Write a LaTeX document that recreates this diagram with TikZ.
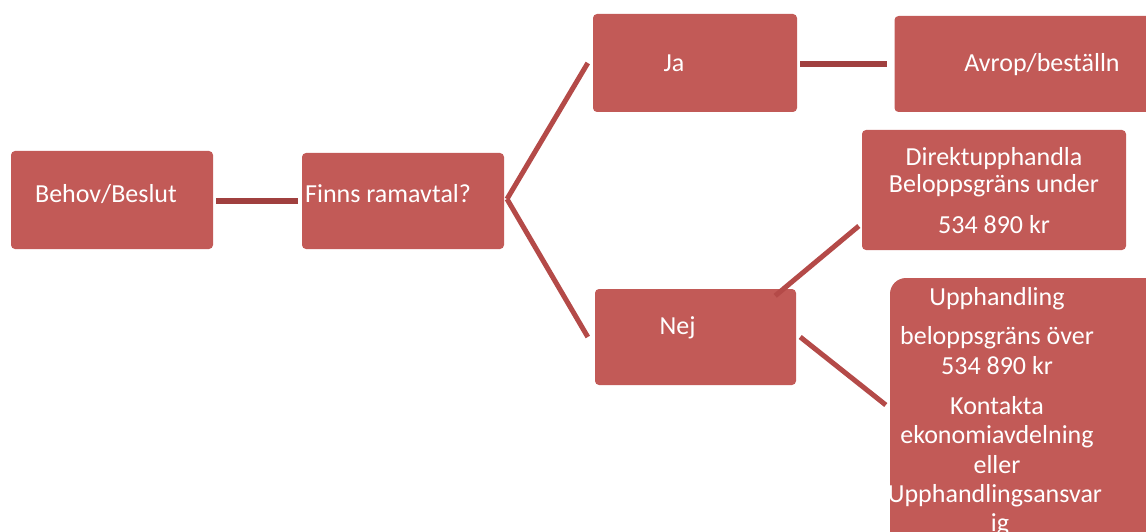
\documentclass[tikz,border=0pt]{standalone}
\usepackage{fontspec}
\setmainfont{Carlito}
\definecolor{boxred}{HTML}{C25A57}
\definecolor{hlinecol}{HTML}{A0403F}
\definecolor{dlinecol}{HTML}{B44A48}
\begin{document}
\begin{tikzpicture}[x=1pt,y=-1pt,
  box/.style={fill=boxred,draw=none,inner sep=0pt,rounded corners=4pt},
  txt/.style={text=white,inner sep=0pt,anchor=base,font=\fontsize{26}{31}\selectfont},
  hconn/.style={draw=hlinecol,line width=6pt},
  dconn/.style={draw=dlinecol,line width=5pt}]
\useasboundingbox (0,0) rectangle (1146,532);
\clip (0,0) rectangle (1146,532);
% boxes
\node[box,minimum width=202pt,minimum height=98pt] (behov) at (112,200) {};
\node[box,minimum width=202pt,minimum height=96pt] (finns) at (403,201) {};
\node[box,minimum width=204pt,minimum height=98pt] (ja) at (695,63) {};
\node[box,minimum width=265pt,minimum height=96pt] (avrop) at (1027,64) {};
\node[box,minimum width=264pt,minimum height=120pt] (direkt) at (994,190) {};
\node[box,minimum width=201pt,minimum height=96pt] (nej) at (695.5,337) {};
\node[box,rounded corners=16pt,minimum width=270pt,minimum height=282pt] (upph) at (1025,419) {};
% connectors
\coordinate (fork) at (507,199);
\draw[hconn] ([xshift=3pt]behov.east |- 0,201) -- ([xshift=-4pt]finns.west |- 0,201);
\draw[dconn] (fork) -- ([xshift=-5pt]ja.west);
\draw[dconn] (fork) -- ([xshift=-7pt]nej.west);
\draw[hconn] ([xshift=3pt]ja.east |- 0,64) -- ([xshift=-7pt]avrop.west);
\draw[dconn] ([shift={(-21,7)}]nej.north east) -- ([shift={(-3,36)}]direkt.west);
\draw[dconn] ([xshift=4pt]nej.east) -- ([shift={(-4,-14)}]upph.west);
% texts
\node[txt] (tbehov) at (106,202) {Behov/Beslut};
\node[txt,anchor=base west] (tfinns) at (305,202) {Finns ramavtal?};
\node[txt] (tja) at (674,72) {Ja};
\node[txt] (tnej) at (677.5,334) {Nej};
\node[txt] (tavrop) at (1042,72) {Avrop/beställn};
\node[txt] (td1) at (994,165) {Direktupphandla};
\node[txt] (td2) at (994,193) {Beloppsgräns under};
\node[txt] (td3) at (994,233) {534 890 kr};
\begin{scope}
\clip[rounded corners=16pt] (890,278) rectangle (1160,560);
\node[txt] (tu1) at (997,305) {Upphandling};
\node[txt] (tu2) at (997,344) {beloppsgräns över};
\node[txt] (tu3) at (997,374) {534 890 kr};
\node[txt] (tu4) at (997,414) {Kontakta};
\node[txt] (tu5) at (997,443) {ekonomiavdelning};
\node[txt] (tu6) at (997,473) {eller};
\node[txt] (tu7) at (995,502) {Upphandlingsansvar};
\node[txt] (tu8) at (1000,531) {ig};
\end{scope}
\end{tikzpicture}
\end{document}
